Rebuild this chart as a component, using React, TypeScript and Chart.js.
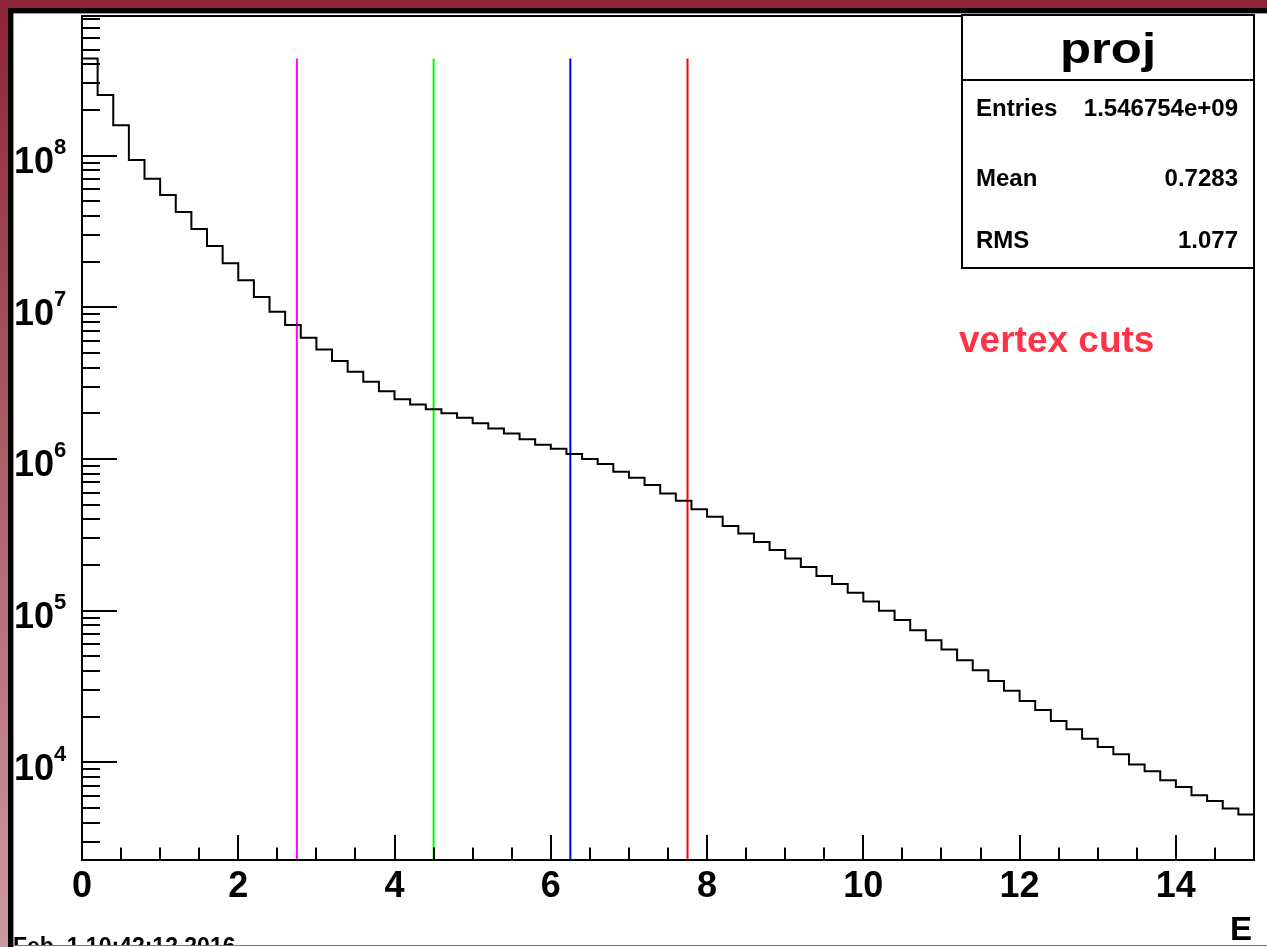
import React, { useEffect, useRef } from "react";
import { Chart, registerables } from "chart.js";

Chart.register(...registerables);

// ---- data ----
const X_MIN = 0;
const X_MAX = 15;
const BIN_WIDTH = 0.2;
const counts = [
  4.37e8, 2.51e8, 1.59e8, 9.37e7, 7.05e7, 5.51e7, 4.26e7, 3.28e7, 2.54e7, 1.95e7,
  1.51e7, 1.17e7, 9.35e6, 7.64e6, 6.3e6, 5.28e6, 4.42e6, 3.76e6, 3.23e6, 2.8e6,
  2.48e6, 2.29e6, 2.13e6, 2.0e6, 1.87e6, 1.72e6, 1.59e6, 1.47e6, 1.35e6, 1.24e6,
  1.17e6, 1.08e6, 9.98e5, 9.25e5, 8.24e5, 7.52e5, 6.73e5, 5.93e5, 5.3e5, 4.67e5,
  4.16e5, 3.62e5, 3.23e5, 2.84e5, 2.51e5, 2.21e5, 1.94e5, 1.69e5, 1.5e5, 1.31e5,
  1.15e5, 9.97e4, 8.66e4, 7.43e4, 6.38e4, 5.54e4, 4.71e4, 4.05e4, 3.44e4, 2.96e4,
  2.54e4, 2.21e4, 1.87e4, 1.65e4, 1.43e4, 1.26e4, 1.13e4, 9.67e3, 8.73e3, 7.62e3,
  6.88e3, 6.07e3, 5.56e3, 4.95e3, 4.52e3,
];
const Y_MIN = 2268;
const Y_MAX = 8.34e8;
const cutPositions = [2.75, 4.5, 6.25, 7.75];
const cutColors = ["#ff00ff", "#00ff00", "#0000ff", "#ff0000"];
const xTickLabels = [0, 2, 4, 6, 8, 10, 12, 14];
const xMinorStep = 0.5;
const yDecadeExponents = [4, 5, 6, 7, 8];
const statsTitle = "proj";
const statsNames = ["Entries", "Mean", "RMS"];
const statsValues = ["1.546754e+09", "0.7283", "1.077"];
const annotation = "vertex cuts";
const xAxisTitle = "E";
const dateStamp = "Feb  1 10:42:12 2016";

const FONT = '"Liberation Sans", Arial, Helvetica, sans-serif';

const rootStyle = {
  id: "rootStyle",
  beforeDraw(chart: any) {
    const ctx = chart.ctx as CanvasRenderingContext2D;
    const W = chart.width;
    const H = chart.height;
    ctx.save();
    ctx.fillStyle = "#ffffff";
    ctx.fillRect(0, 0, W, H);
    const g = ctx.createLinearGradient(0, 0, 0, H);
    g.addColorStop(0, "#8e2536");
    g.addColorStop(1, "#cc9aa0");
    ctx.fillStyle = g;
    ctx.fillRect(0, 0, 8, H);
    ctx.fillStyle = "#8e2536";
    ctx.fillRect(0, 0, W, 8);
    ctx.fillStyle = "#000";
    ctx.fillRect(8, 8, W - 8, 5);
    ctx.fillRect(8, 8, 5, H - 8);
    ctx.fillStyle = "#9a9a9a";
    ctx.fillRect(13, 13, W - 13, 1);
    ctx.fillRect(13, 13, 1, H - 13);
    ctx.restore();
  },
  afterDraw(chart: any) {
    const ctx = chart.ctx as CanvasRenderingContext2D;
    const W = chart.width;
    const { left, right, top, bottom } = chart.chartArea;
    const xs = chart.scales.x;
    const ys = chart.scales.y;
    ctx.save();
    ctx.strokeStyle = "#000";
    ctx.lineWidth = 2;
    // frame
    ctx.strokeRect(left, top, right - left, bottom - top);

    // y ticks (inward)
    ctx.beginPath();
    for (let e = 3; e <= 8; e++) {
      for (let m = 1; m <= 9; m++) {
        const v = m * Math.pow(10, e);
        if (v < Y_MIN || v > Y_MAX) continue;
        const py = Math.round(ys.getPixelForValue(v));
        const len = m === 1 ? 35 : 18;
        ctx.moveTo(left, py);
        ctx.lineTo(left + len, py);
      }
    }
    // x ticks (inward)
    for (let v = X_MIN + xMinorStep; v < X_MAX - 1e-6; v += xMinorStep) {
      const px = Math.round(xs.getPixelForValue(v));
      const major = xTickLabels.includes(Math.round(v * 1000) / 1000);
      const len = major ? 25 : 12.5;
      ctx.moveTo(px, bottom);
      ctx.lineTo(px, bottom - len);
    }
    ctx.stroke();

    // x tick labels
    ctx.fillStyle = "#000";
    ctx.font = `bold 36px ${FONT}`;
    ctx.textAlign = "center";
    ctx.textBaseline = "alphabetic";
    xTickLabels.forEach((v) => {
      ctx.fillText(String(v), xs.getPixelForValue(v), 897);
    });

    // y tick labels 10^k
    yDecadeExponents.forEach((k) => {
      const py = ys.getPixelForValue(Math.pow(10, k));
      ctx.font = `bold 36px ${FONT}`;
      ctx.textAlign = "left";
      ctx.fillText("10", 14, py + 17.5);
      ctx.font = `bold 22px ${FONT}`;
      ctx.fillText(String(k), 54, py - 1.5);
    });

    // axis title
    ctx.font = `bold 33px ${FONT}`;
    ctx.textAlign = "right";
    ctx.fillText(xAxisTitle, 1252, 940);

    // annotation
    ctx.font = `bold 37px ${FONT}`;
    ctx.textAlign = "left";
    ctx.fillStyle = "#ff3347";
    ctx.fillText(annotation, 959, 352);

    // stats box
    const bx0 = 962, by0 = 15, bx1 = 1254, by1 = 268, bdiv = 80;
    ctx.fillStyle = "#fff";
    ctx.fillRect(bx0, by0, bx1 - bx0, by1 - by0);
    ctx.strokeStyle = "#000";
    ctx.lineWidth = 2;
    ctx.strokeRect(bx0, by0, bx1 - bx0, by1 - by0);
    ctx.beginPath();
    ctx.moveTo(bx0, bdiv);
    ctx.lineTo(bx1, bdiv);
    ctx.stroke();
    ctx.fillStyle = "#000";
    ctx.font = `bold 42px ${FONT}`;
    const tw = ctx.measureText(statsTitle).width;
    const targetW = 96;
    ctx.save();
    ctx.translate((bx0 + bx1) / 2, 63);
    ctx.scale(targetW / tw, 1);
    ctx.textAlign = "center";
    ctx.fillText(statsTitle, 0, 0);
    ctx.restore();
    const rowBase = [116, 186, 248];
    ctx.font = `bold 24px ${FONT}`;
    statsNames.forEach((n, i) => {
      ctx.textAlign = "left";
      ctx.fillText(n, 976, rowBase[i]);
      ctx.textAlign = "right";
      ctx.fillText(statsValues[i], 1238, rowBase[i]);
    });

    // date stamp, clipped by pad bottom
    ctx.save();
    ctx.beginPath();
    ctx.rect(13, 14, W, 945 - 14);
    ctx.clip();
    ctx.font = `bold 23px ${FONT}`;
    ctx.textAlign = "left";
    ctx.fillStyle = "#000";
    ctx.fillText(dateStamp, 13, 954);
    ctx.restore();
    ctx.fillStyle = "#777";
    ctx.fillRect(13, 945, W - 13, 1);

    ctx.restore();
  },
};

export default function App() {
  const canvasRef = useRef<HTMLCanvasElement | null>(null);

  useEffect(() => {
    document.body.style.margin = "0";
    const canvas = canvasRef.current;
    if (!canvas) return;

    const histPoints = counts.map((c, i) => ({ x: X_MIN + i * BIN_WIDTH, y: c }));
    histPoints.push({ x: X_MAX, y: counts[counts.length - 1] });
    const cutTop = Math.max(...counts);

    const datasets: any[] = [
      {
        label: "proj",
        data: histPoints,
        stepped: "before",
        borderColor: "#000",
        borderWidth: 2,
        pointRadius: 0,
        fill: false,
        tension: 0,
      },
      ...cutPositions.map((xv, i) => ({
        label: `cut${i}`,
        data: [
          { x: xv, y: Y_MIN },
          { x: xv, y: cutTop },
        ],
        borderColor: cutColors[i],
        borderWidth: 2,
        pointRadius: 0,
        fill: false,
      })),
    ];

    const chart = new Chart(canvas, {
      type: "line",
      data: { datasets },
      options: {
        responsive: false,
        animation: false,
        devicePixelRatio: 1,
        layout: { padding: { left: 82, top: 16, right: 13, bottom: 87 } },
        plugins: { legend: { display: false }, tooltip: { enabled: false } },
        scales: {
          x: { type: "linear", min: X_MIN, max: X_MAX, display: false },
          y: { type: "logarithmic", min: Y_MIN, max: Y_MAX, display: false },
        },
      },
      plugins: [rootStyle],
    } as any);

    return () => chart.destroy();
  }, []);

  return (
    <div style={{ position: "absolute", left: 0, top: 0, width: 1267, height: 947 }}>
      <canvas ref={canvasRef} width={1267} height={947} style={{ display: "block" }} />
    </div>
  );
}
